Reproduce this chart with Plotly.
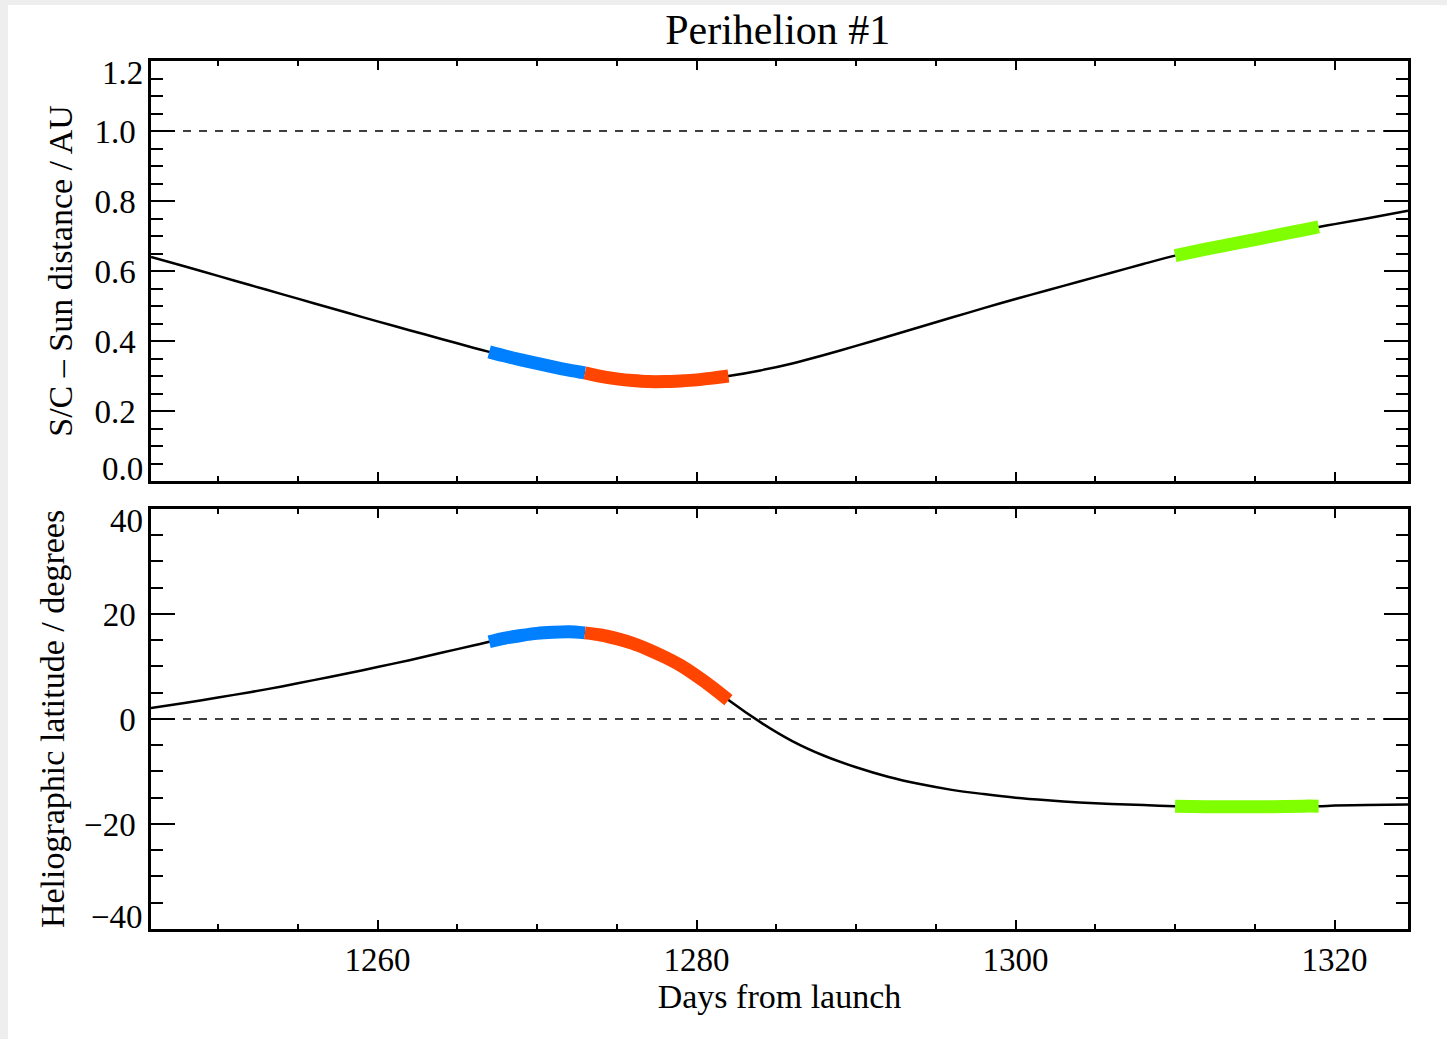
import plotly.graph_objects as go

# ---------------- data ----------------
days = [1245.8, 1248, 1250, 1252, 1254, 1256, 1258, 1260, 1262, 1264, 1266,
        1267, 1268, 1269, 1270, 1271, 1272, 1273, 1274, 1275, 1276, 1277,
        1278, 1279, 1280, 1281, 1282, 1284, 1286, 1288, 1290, 1292, 1294,
        1296, 1298, 1300, 1302, 1304, 1306, 1308, 1310, 1312, 1314, 1316,
        1318, 1319, 1320, 1322, 1324.6]

distance_au = [0.640, 0.612, 0.586, 0.560, 0.534, 0.508, 0.482, 0.456, 0.431, 0.406, 0.381,
               0.369, 0.357, 0.346, 0.336, 0.326, 0.317, 0.309, 0.299, 0.292, 0.287, 0.284,
               0.284, 0.286, 0.289, 0.294, 0.300, 0.316, 0.336, 0.360, 0.386, 0.413, 0.440,
               0.467, 0.494, 0.520, 0.545, 0.570, 0.595, 0.620, 0.644, 0.663, 0.681, 0.699,
               0.717, 0.726, 0.734, 0.750, 0.772]

latitude_deg = [2.1, 3.1, 4.1, 5.1, 6.2, 7.4, 8.6, 9.9, 11.2, 12.6, 14.0,
                14.7, 15.4, 15.9, 16.3, 16.5, 16.6, 16.4, 16.0, 15.3, 14.4, 13.2,
                11.8, 10.2, 8.2, 6.0, 3.6, -0.6, -4.2, -7.0, -9.2, -11.0, -12.4,
                -13.5, -14.3, -15.0, -15.5, -15.9, -16.2, -16.4, -16.6, -16.7, -16.7, -16.7,
                -16.6, -16.6, -16.5, -16.4, -16.3]

# highlighted windows: (start day, end day, colour)
segment_starts = [1267, 1273, 1310]
segment_ends = [1273, 1282, 1319]
segment_colors = ["#0080FF", "#FF4500", "#80FF00"]

ref_distance = 1.0   # dashed line, top panel
ref_latitude = 0.0   # dashed line, bottom panel

x_range = [1245.8, 1324.6]
dist_range = [0.0, 1.2]
lat_range = [-40, 40]
x_ticks = [1260, 1280, 1300, 1320]
dist_ticks = [0.0, 0.2, 0.4, 0.6, 0.8, 1.0, 1.2]
dist_labels = ["0.0", "0.2", "0.4", "0.6", "0.8", "1.0", "1.2"]
lat_ticks = [-40, -20, 0, 20, 40]
lat_labels = ["\u221240", "\u221220", "0", "20", "40"]

# ---------------- figure ----------------
FONT = "Liberation Serif, Times New Roman, serif"
fig = go.Figure()

def add_panel(yvals, xa, ya):
    fig.add_trace(go.Scatter(x=days, y=yvals, mode="lines", xaxis=xa, yaxis=ya,
                             line=dict(color="black", width=2.5, shape="spline", smoothing=0.8),
                             showlegend=False, hoverinfo="skip"))
    for s, e, c in zip(segment_starts, segment_ends, segment_colors):
        xs = [d for d in days if s <= d <= e]
        ys = [v for d, v in zip(days, yvals) if s <= d <= e]
        fig.add_trace(go.Scatter(x=xs, y=ys, mode="lines", xaxis=xa, yaxis=ya,
                                 line=dict(color=c, width=13, shape="spline", smoothing=0.8),
                                 showlegend=False, hoverinfo="skip"))

add_panel(distance_au, "x", "y")
add_panel(latitude_deg, "x2", "y2")

# dashed reference lines
fig.add_trace(go.Scatter(x=x_range, y=[ref_distance, ref_distance], mode="lines",
                         xaxis="x", yaxis="y", line=dict(color="black", width=1.5, dash="8px,8px"),
                         showlegend=False, hoverinfo="skip"))
fig.add_trace(go.Scatter(x=x_range, y=[ref_latitude, ref_latitude], mode="lines",
                         xaxis="x2", yaxis="y2", line=dict(color="black", width=1.5, dash="8px,8px"),
                         showlegend=False, hoverinfo="skip"))

tickfont = dict(family=FONT, size=33, color="black")
titlefont = dict(family=FONT, size=34, color="black")

common_x = dict(range=x_range, showline=True, linewidth=2.5, linecolor="black",
                mirror="allticks", ticks="inside", ticklen=9, tickwidth=2, tickcolor="black",
                tickvals=x_ticks, showgrid=False, zeroline=False,
                minor=dict(dtick=5, tick0=1245, ticks="inside", ticklen=5, tickwidth=2,
                           tickcolor="black", showgrid=False))
common_y = dict(showline=True, linewidth=2.5, linecolor="black", mirror="allticks",
                ticks="inside", ticklen=24, tickwidth=2, tickcolor="black",
                showgrid=False, zeroline=False, tickfont=tickfont, ticklabelstandoff=6)

# end-of-axis labels are nudged inward (as in the reference), inner ones are normal tick labels
dist_text = [t if 0 < i < len(dist_labels) - 1 else "" for i, t in enumerate(dist_labels)]
lat_text = [t if 0 < i < len(lat_labels) - 1 else "" for i, t in enumerate(lat_labels)]

annotations = []
for val, lab, yref, shift in [(dist_ticks[-1], dist_labels[-1], "y", -12),
                              (dist_ticks[0], dist_labels[0], "y", 12),
                              (lat_ticks[-1], lat_labels[-1], "y2", -12),
                              (lat_ticks[0], lat_labels[0], "y2", 12)]:
    annotations.append(dict(x=0, xref="paper", y=val, yref=yref, text=lab, showarrow=False,
                            xanchor="right", yanchor="middle", xshift=-6, yshift=shift,
                            font=tickfont))

fig.update_layout(
    width=1447, height=1039,
    paper_bgcolor="white", plot_bgcolor="white",
    margin=dict(l=151, r=39, t=61, b=110),
    title=dict(text="Perihelion #1", x=0.5375, xanchor="center", y=0.972, yanchor="middle",
               font=dict(family=FONT, size=42, color="black")),
    xaxis=dict(**common_x, anchor="y", domain=[0, 1], showticklabels=False, matches="x2"),
    xaxis2=dict(**common_x, anchor="y2", domain=[0, 1], tickfont=tickfont,
                title=dict(text="Days from launch", font=titlefont, standoff=4)),
    yaxis=dict(**common_y, anchor="x", domain=[0.5161, 1.0], range=dist_range,
               tickvals=dist_ticks, ticktext=dist_text,
               minor=dict(dtick=0.05, tick0=0, ticks="inside", ticklen=12, tickwidth=2,
                          tickcolor="black", showgrid=False),
               title=dict(text="S/C \u2013 Sun distance / AU", font=titlefont, standoff=12)),
    yaxis2=dict(**common_y, anchor="x2", domain=[0, 0.4839], range=lat_range,
                tickvals=lat_ticks, ticktext=lat_text,
                minor=dict(dtick=5, tick0=0, ticks="inside", ticklen=12, tickwidth=2,
                           tickcolor="black", showgrid=False),
                title=dict(text="Heliographic latitude / degrees", font=titlefont, standoff=10)),
    annotations=annotations,
    shapes=[
        dict(type="rect", xref="paper", yref="paper", x0=-0.2, x1=-0.1138, y0=-0.2, y1=1.2,
             fillcolor="#eeeeee", line=dict(width=0), layer="below"),
        dict(type="rect", xref="paper", yref="paper", x0=-0.2, x1=1.1, y0=1.0645, y1=1.2,
             fillcolor="#eeeeee", line=dict(width=0), layer="below"),
    ],
)

fig.write_html("out.html", config={"displayModeBar": False},
               post_script="document.body.style.margin='0px';")
